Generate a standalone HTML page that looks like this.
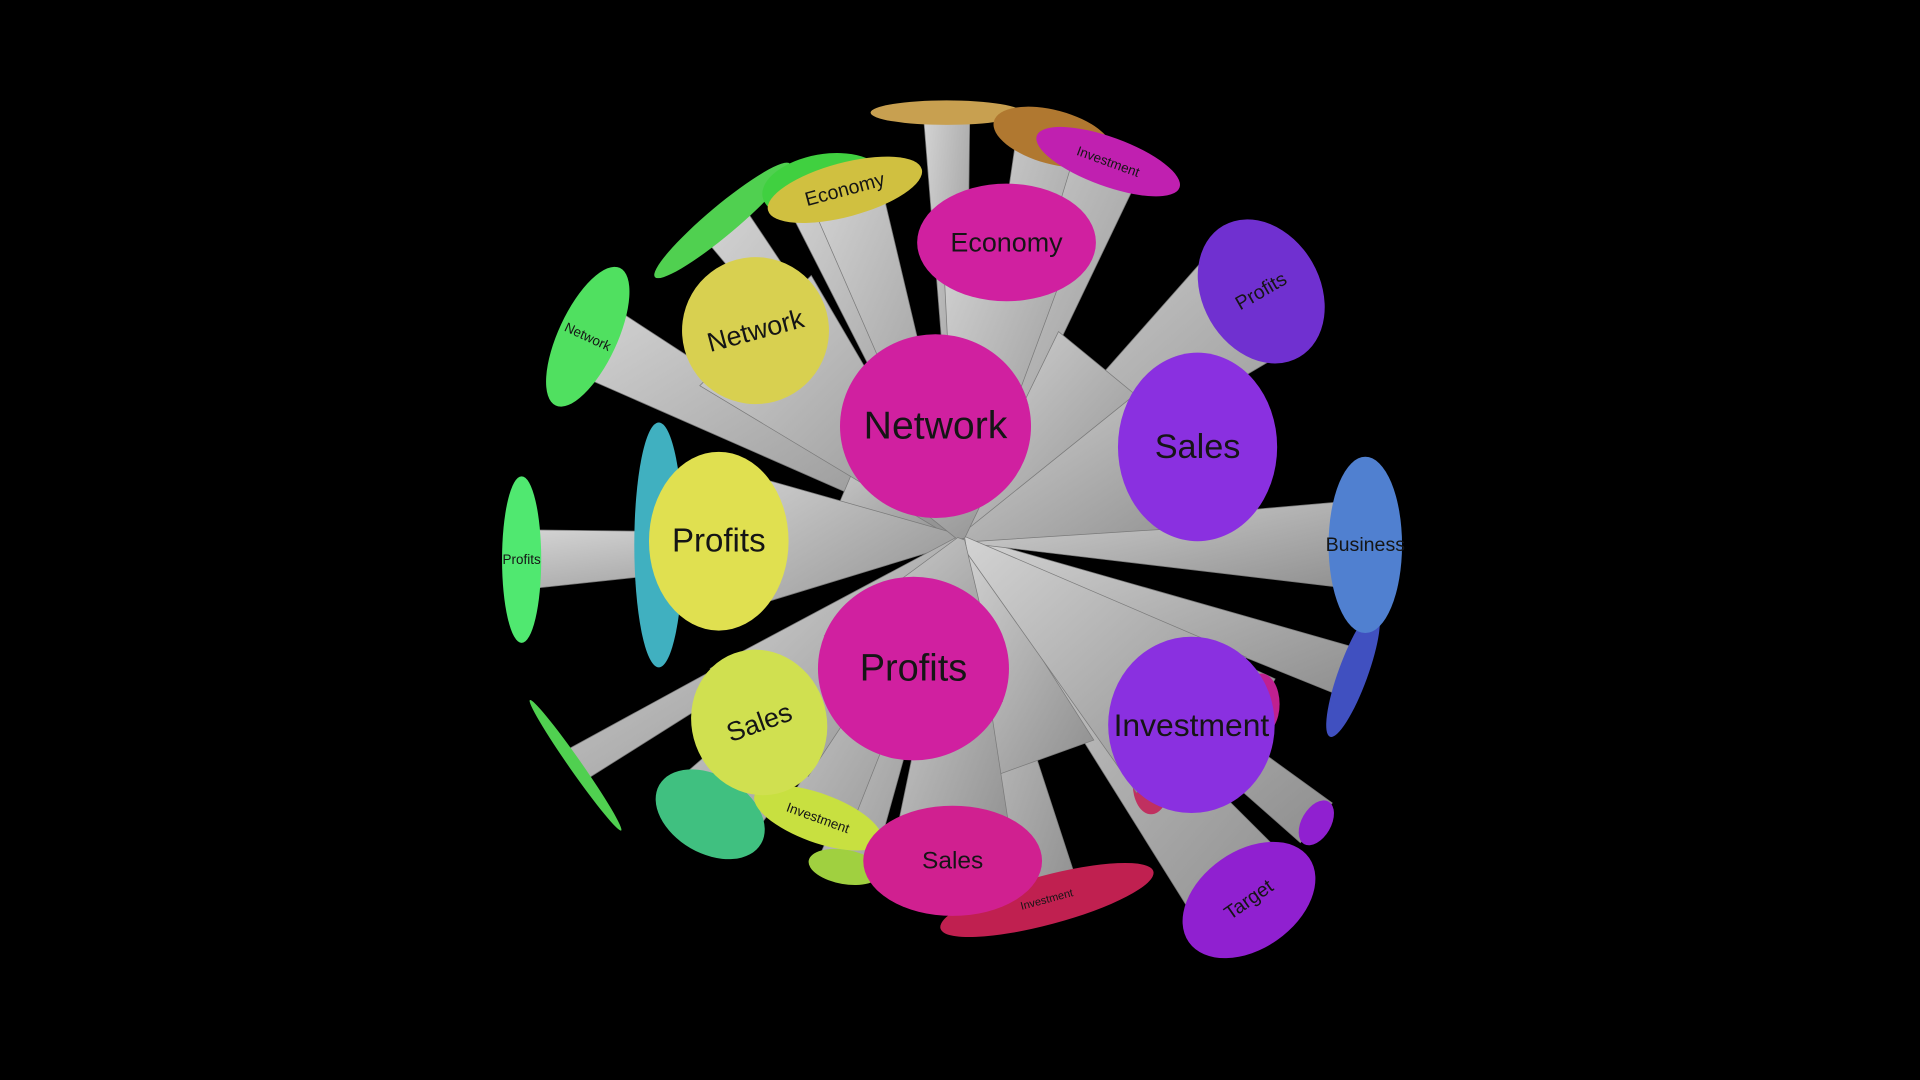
<!DOCTYPE html>
<html><head><meta charset="utf-8"><style>
html,body{margin:0;padding:0;background:#000;width:1920px;height:1080px;overflow:hidden}
svg{display:block}
text{font-family:"Liberation Sans",sans-serif;fill:#151515;text-anchor:middle;dominant-baseline:central}
</style></head><body>
<svg id="s" width="1920" height="1080" viewBox="0 0 1568 882" xmlns="http://www.w3.org/2000/svg">
<defs>
<linearGradient id="g" x1="0" y1="0" x2="1" y2="1"><stop offset="0" stop-color="#d4d4d4"/><stop offset="1" stop-color="#8e8e8e"/></linearGradient>
</defs>
<g id="back"></g><g id="front"></g>
</svg>
<script>
var C=[785,440];
var back=[
[773,92,62,10,0,"#c8a050","",0],
[860,112,50,22,15,"#b07830","",0],
[905,132,62,20,20,"#c020b0","Investment",11],
[590,180,72,12,-40,"#50d050","",0],
[672,152,50,26,-10,"#40d040","",0],
[690,155,65,22,-15,"#d0c040","Economy",16],
[480,275,24,62,25,"#50e060","Network",11],
[538,445,20,100,0,"#40b0c0","",0],
[426,457,16,68,0,"#50e870","Profits",11],
[470,625,5,65,-35,"#50d050","",0],
[580,665,48,32,30,"#40c080","",0],
[690,708,30,14,10,"#a0d040","",0],
[668,668,55,20,20,"#c8e040","Investment",11],
[855,735,90,20,-15,"#c02050","Investment",9],
[940,640,15,25,0,"#c03060","",0],
[1030,575,15,25,0,"#c02090","",0],
[1105,550,12,55,20,"#4050c0","",0],
[1115,445,30,72,0,"#5080d0","Business",16],
[1030,238,48,62,-30,"#7030d0","Profits",16],
[1075,672,12,20,30,"#9020d0","",0],
[1020,735,60,40,-35,"#9020d0","Target",16],
[900,300,40,40,0,"#999","",0],
[690,400,40,40,0,"#999","",0],
[850,620,40,40,0,"#999","",0]
];
var front=[
[822,198,73,48,0,"#d020a0","Economy",22],
[617,270,60,60,-15,"#d8d050","Network",22],
[978,365,65,77,0,"#8a30e0","Sales",28],
[587,442,57,73,0,"#e0e050","Profits",27],
[620,590,55,60,-20,"#d0e050","Sales",22],
[973,592,68,72,0,"#8a30e0","Investment",26],
[778,703,73,45,0,"#d02090","Sales",20],
[764,348,78,75,0,"#d020a0","Network",32],
[746,546,78,75,0,"#d020a0","Profits",31]
];
var NS="http://www.w3.org/2000/svg";
function el(t,a,p){var e=document.createElementNS(NS,t);for(var k in a)e.setAttribute(k,a[k]);p.appendChild(e);return e;}
function draw(list,gid){
 var g=document.getElementById(gid);
 list.forEach(function(d){
  var dx=d[0]-C[0],dy=d[1]-C[1],L=Math.hypot(dx,dy)||1;
  var nx=-dy/L,ny=dx/L,w=Math.min(d[2],d[3])*0.9+10;
  var pts=[[C[0]+nx*3,C[1]+ny*3],[d[0]+nx*w,d[1]+ny*w],[d[0]-nx*w,d[1]-ny*w],[C[0]-nx*3,C[1]-ny*3]];
  el("polygon",{points:pts.map(function(p){return p.join(",")}).join(" "),fill:"url(#g)",stroke:"#7a7a7a","stroke-width":0.6},g);
 });
 list.forEach(function(d){
  if(d[5]=="#999")return;
  el("ellipse",{cx:d[0],cy:d[1],rx:d[2],ry:d[3],fill:d[5],transform:"rotate("+d[4]+" "+d[0]+" "+d[1]+")"},g);
  if(d[6]){var t=el("text",{x:d[0],y:d[1],"font-size":d[7],transform:"rotate("+d[4]+" "+d[0]+" "+d[1]+")"},g);t.textContent=d[6];}
 });
}
draw(back,"back");draw(front,"front");
</script>
</body></html>
